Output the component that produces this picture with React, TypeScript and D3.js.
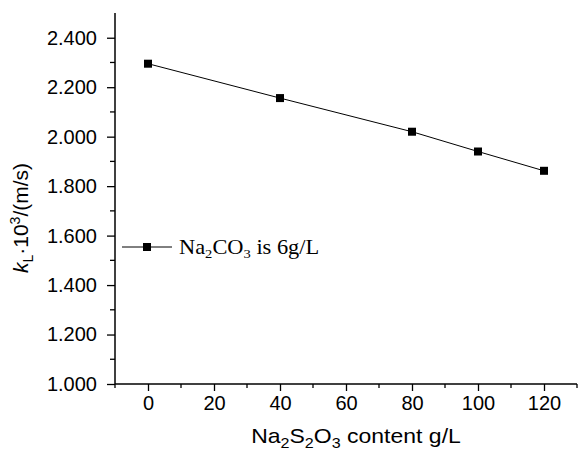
import * as d3 from 'd3';
import { useEffect, useRef } from 'react';

// Na2S2O3 content (g/L) vs kL*10^3 (m/s)
const contents = [0, 40, 80, 100, 120];
const klValues = [2.295, 2.156, 2.02, 1.94, 1.862];
const xTicks = [0, 20, 40, 60, 80, 100, 120];
const yTicks = [1.0, 1.2, 1.4, 1.6, 1.8, 2.0, 2.2, 2.4];
const seriesName = 'Na2CO3 is 6g/L';

const W = 579;
const H = 455;
const LEFT = 115, RIGHT = 577, TOP = 13, BOTTOM = 384;

export default function App() {
  const ref = useRef<SVGSVGElement>(null);

  useEffect(() => {
    const svg = d3.select(ref.current);
    svg.selectAll('*').remove();

    const x = d3.scaleLinear().domain([-10, 130]).range([LEFT, RIGHT]);
    const y = d3.scaleLinear().domain([1.0, 2.5]).range([BOTTOM, TOP]);
    const font = 'Liberation Sans, Arial, sans-serif';

    // x axis
    const xAxis = d3.axisBottom(x).tickValues(xTicks).tickSize(7).tickFormat(d3.format('d'));
    const gx = svg.append('g').attr('transform', `translate(0,${BOTTOM})`).call(xAxis);
    gx.select('.domain').attr('stroke-width', 1.5).attr('d', `M${LEFT},0H${RIGHT}`);
    gx.selectAll('.tick line').attr('stroke-width', 1.3);
    gx.selectAll('.tick text').attr('font-size', 20).attr('font-family', font).attr('y', 12).attr('dy', '0.71em').attr('fill', '#000');
    // minor x ticks
    svg.append('g').selectAll('line')
      .data(d3.range(-10, 131, 20))
      .join('line')
      .attr('x1', d => x(d)).attr('x2', d => x(d))
      .attr('y1', BOTTOM).attr('y2', BOTTOM + 4)
      .attr('stroke', '#000').attr('stroke-width', 1.3);

    // y axis
    const yAxis = d3.axisLeft(y).tickValues(yTicks).tickSize(8).tickFormat(d3.format('.3f'));
    const gy = svg.append('g').attr('transform', `translate(${LEFT},0)`).call(yAxis);
    gy.select('.domain').attr('stroke-width', 1.5).attr('d', `M0,${BOTTOM}V${TOP}`);
    gy.selectAll('.tick line').attr('stroke-width', 1.3);
    gy.selectAll('.tick text').attr('font-size', 20).attr('font-family', font).attr('x', -18).attr('fill', '#000');
    svg.append('g').selectAll('line')
      .data(d3.range(1.1, 2.5, 0.2))
      .join('line')
      .attr('x1', LEFT - 5).attr('x2', LEFT)
      .attr('y1', d => y(d)).attr('y2', d => y(d))
      .attr('stroke', '#000').attr('stroke-width', 1.3);

    // data line and markers
    const pts = contents.map((c, i) => [c, klValues[i]] as [number, number]);
    svg.append('path')
      .datum(pts)
      .attr('fill', 'none').attr('stroke', '#000').attr('stroke-width', 1)
      .attr('d', d3.line<[number, number]>().x(d => x(d[0])).y(d => y(d[1])));
    svg.append('g').selectAll('rect')
      .data(pts)
      .join('rect')
      .attr('x', d => x(d[0]) - 4).attr('y', d => y(d[1]) - 4)
      .attr('width', 8).attr('height', 8).attr('fill', '#000');

    // legend
    const ly = 247;
    svg.append('line').attr('x1', 122).attr('x2', 172).attr('y1', ly).attr('y2', ly)
      .attr('stroke', '#000').attr('stroke-width', 1);
    svg.append('rect').attr('x', 143).attr('y', ly - 4).attr('width', 8).attr('height', 8).attr('fill', '#000');
    const lt = svg.append('text').attr('transform', 'translate(179,254) scale(1.12,1)')
      .attr('font-family', 'Liberation Serif, Times New Roman, serif').attr('font-size', 20);
    lt.append('tspan').text('Na');
    lt.append('tspan').text('2').attr('font-size', 13).attr('dy', 4);
    lt.append('tspan').text('CO').attr('dy', -4);
    lt.append('tspan').text('3').attr('font-size', 13).attr('dy', 4);
    lt.append('tspan').text(seriesName.slice(6)).attr('dy', -4);

    // x label
    const xl = svg.append('text').attr('transform', 'translate(356,443) scale(1.15,1)').attr('text-anchor', 'middle')
      .attr('font-family', font).attr('font-size', 20);
    xl.append('tspan').text('Na');
    xl.append('tspan').text('2').attr('font-size', 14).attr('dy', 5);
    xl.append('tspan').text('S').attr('dy', -5);
    xl.append('tspan').text('2').attr('font-size', 14).attr('dy', 5);
    xl.append('tspan').text('O').attr('dy', -5);
    xl.append('tspan').text('3').attr('font-size', 14).attr('dy', 5);
    xl.append('tspan').text(' content  g/L').attr('dy', -5);

    // y label
    const yl = svg.append('text').attr('transform', 'translate(28,218) rotate(-90)')
      .attr('text-anchor', 'middle').attr('font-family', font).attr('font-size', 21);
    yl.append('tspan').text('k').attr('font-style', 'italic');
    yl.append('tspan').text('L').attr('font-size', 14).attr('dy', 5);
    yl.append('tspan').text('·10').attr('dy', -5);
    yl.append('tspan').text('3').attr('font-size', 14).attr('dy', -8);
    yl.append('tspan').text('/(m/s)').attr('dy', 8);
  }, []);

  return (
    <svg ref={ref} width={W} height={H} style={{ position: 'absolute', left: 0, top: 0, background: '#fff' }} />
  );
}
